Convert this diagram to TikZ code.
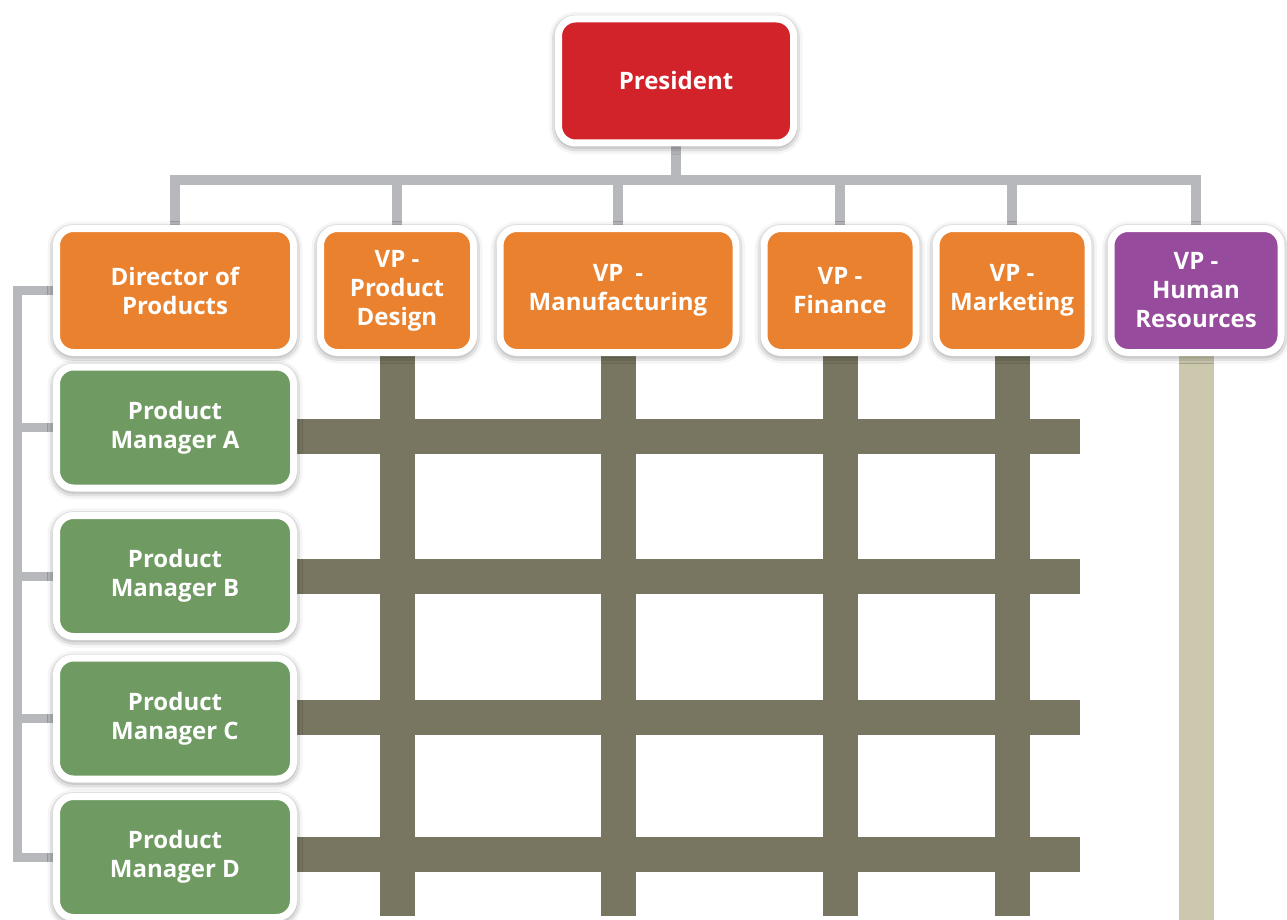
\documentclass[tikz,border=0pt]{standalone}
\usepackage{fontspec}
\setmainfont{Open Sans}
\usetikzlibrary{positioning, shadows.blur}
\definecolor{presred}{RGB}{210,35,42}
\definecolor{vporange}{RGB}{234,129,46}
\definecolor{hrpurple}{RGB}{151,75,156}
\definecolor{pmgreen}{RGB}{111,155,99}
\definecolor{treegray}{RGB}{183,184,188}
\definecolor{gridolive}{RGB}{120,117,96}
\definecolor{hrbeige}{RGB}{204,200,174}
\pgfdeclarelayer{bg}
\pgfsetlayers{bg,main}

\tikzset{
  orgbox/.style={draw=white, line width=7pt, rounded corners=17pt, inner sep=0pt,
    text=white, align=center, font=\fontsize{24}{29}\selectfont\bfseries,
    minimum height=124pt,
    blur shadow={shadow xshift=0pt, shadow yshift=-2pt, shadow blur radius=9pt, shadow opacity=65}},
  vpbox/.style={orgbox, fill=vporange},
  pmbox/.style={orgbox, fill=pmgreen, minimum width=237pt, minimum height=121pt},
  tree/.style={treegray, line width=10pt},
  tree2/.style={treegray, line width=9pt},
  gridbar/.style={gridolive, line width=35pt},
}

\begin{document}
\begin{tikzpicture}[x=1pt, y=-1pt]
    \useasboundingbox (0,0) rectangle (1287,920);

    % President and VPs
    \node[orgbox, fill=presred, minimum width=235pt] (pres) at (676,81) {President};
    \node[vpbox, minimum width=237pt] (dir) at (175,290.5) {Director of\\Products};
    \node[vpbox, minimum width=153pt] (pd) at (397,290.5) {VP -\\Product\\Design};
    \node[vpbox, minimum width=236pt] (mfg) at (618,290.5) {VP\enspace-\\Manufacturing};
    \node[vpbox, minimum width=152pt] (fin) at (840,290.5) {VP -\\Finance};
    \node[vpbox, minimum width=152pt] (mkt) at (1012,290.5) {VP -\\Marketing};
    \node[orgbox, fill=hrpurple, minimum width=170pt] (hr) at (1196,290.5) {VP -\\Human\\Resources};

    % Product managers
    \node[pmbox] (pma) at (175,427.5) {Product\\Manager A};
    \node[pmbox] (pmb) at (175,576) {Product\\Manager B};
    \node[pmbox] (pmc) at (175,718.5) {Product\\Manager C};
    \node[pmbox] (pmd) at (175,857) {Product\\Manager D};

    \coordinate (bar) at (0,180);
    \coordinate (spine) at (17.5,575);
    \coordinate (gridend) at (0,916);
    \coordinate (gridright) at (1080,0);
    \coordinate (pageend) at (0,920);

    \begin{pgfonlayer}{bg}
    % reporting lines
    \foreach \n in {dir,pd,mfg,fin,mkt,hr}
        \draw[tree] (pres.south) |- (bar -| \n.north) -- (\n.north);
    \draw[tree2] (dir.west) -| (spine) |- (pmd.west);
    \foreach \n in {pma,pmb,pmc}
        \draw[tree2] (\n.west) -- (\n.west -| spine);

    % matrix grid
    \foreach \n in {pd,mfg,fin,mkt}
        \draw[gridbar] (\n.south) -- (\n.south |- gridend);
    \foreach \n/\dy in {pma/-9,pmb/0,pmc/1.5,pmd/2.5}
        \draw[gridbar] ([yshift=\dy pt]\n.east) -- ([yshift=\dy pt]\n.east -| gridright);
    \draw[hrbeige, line width=35pt] (hr.south) -- (hr.south |- pageend);
    \end{pgfonlayer}
\end{tikzpicture}
\end{document}
